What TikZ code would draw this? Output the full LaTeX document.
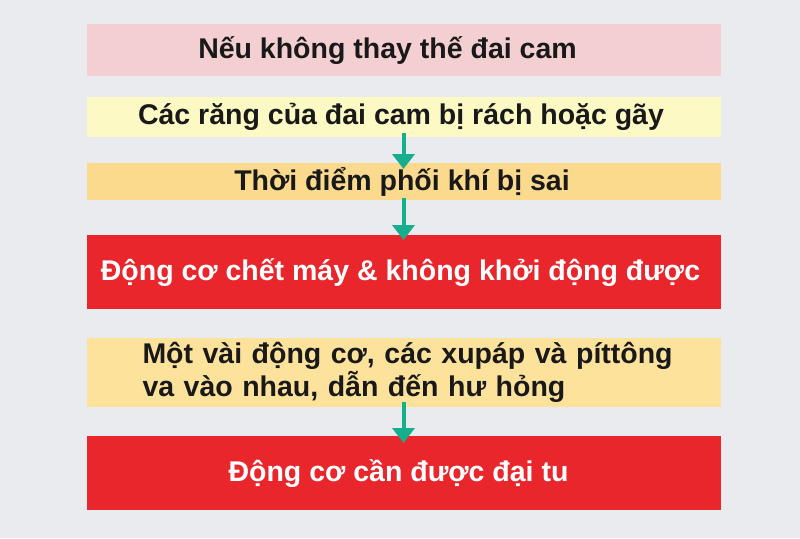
\documentclass[tikz,border=0pt]{standalone}
\usepackage{fontspec}
\setmainfont{Liberation Sans}
\usetikzlibrary{arrows.meta}
\definecolor{bg}{HTML}{E9EBEE}
\definecolor{pinkbox}{HTML}{F3CFD1}
\definecolor{yelbox}{HTML}{FDF9C4}
\definecolor{orbox}{HTML}{FBDA8E}
\definecolor{or2box}{HTML}{FDE29C}
\definecolor{redbox}{HTML}{E8262C}
\definecolor{teal}{HTML}{17AE8E}
\tikzset{
  box/.style={rectangle, inner sep=0pt, minimum width=634pt, anchor=north,
    font=\bfseries\fontsize{28.5}{33}\selectfont},
  darktext/.style={text=black!90},
  lighttext/.style={text=white},
  flow/.style={draw=teal, line width=4pt, -{Triangle[width=22pt,length=15pt]}}
}
\begin{document}
\begin{tikzpicture}[x=1pt,y=-1pt]
\fill[bg] (0,0) rectangle (800,538);
\useasboundingbox (0,0) rectangle (800,538);
\node[box, fill=pinkbox, darktext, minimum height=52pt] (b1) at (403.5,24) {Nếu không thay thế đai cam\hspace*{32pt}};
\node[box, fill=yelbox, darktext, minimum height=40pt] (b2) at (403.5,97) {Các răng của đai cam bị rách hoặc gãy\hspace*{5pt}};
\node[box, fill=orbox, darktext, minimum height=37pt] (b3) at (403.5,163) {Thời điểm phối khí bị sai\hspace*{3pt}};
\node[box, fill=redbox, lighttext, minimum height=74pt] (b4) at (403.5,235) {Động cơ chết máy \& không khởi động được\hspace*{6pt}};
\node[box, fill=or2box, darktext, minimum height=69pt, text width=634pt, align=left] (b5) at (403.5,338)
  {\hspace*{56pt}Một vài động cơ, các xupáp và píttông\\\hspace*{56pt}va vào nhau, dẫn đến hư hỏng};
\node[box, fill=redbox, lighttext, minimum height=74pt] (b6) at (403.5,436) {Động cơ cần được đại tu\hspace*{10pt}};
\coordinate (a1s) at (403.5,133);
\coordinate (a2s) at (403.5,198);
\coordinate (a3s) at (403.5,402);
\draw[flow] (a1s) -- ([yshift=-6pt]b3.north);
\draw[flow] (a2s) -- ([yshift=-5pt]b4.north);
\draw[flow] (a3s) -- ([yshift=-7pt]b6.north);
\end{tikzpicture}
\end{document}
